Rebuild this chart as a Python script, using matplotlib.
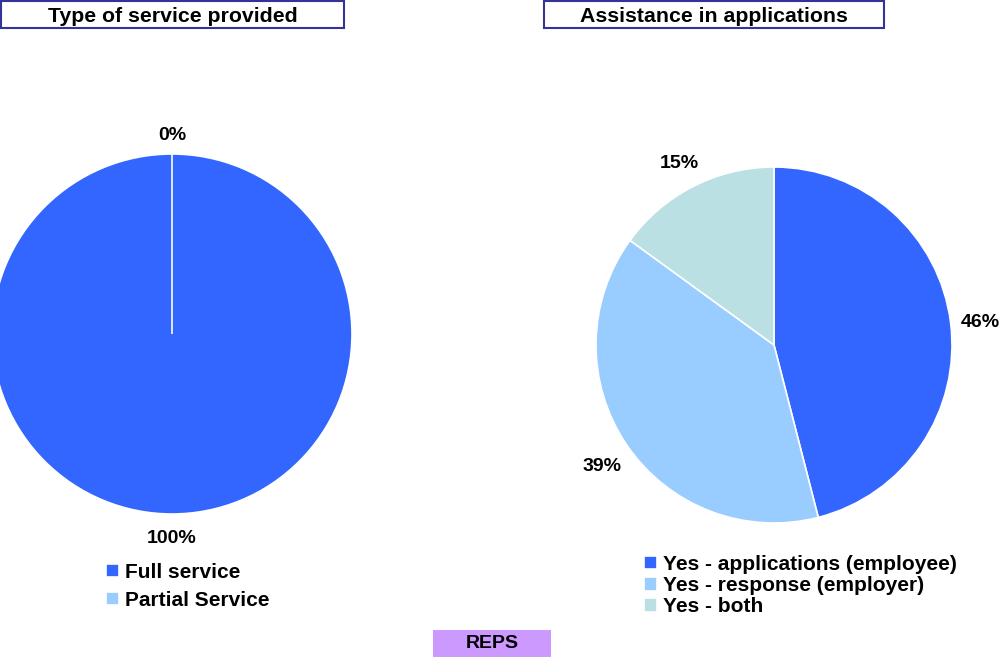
import matplotlib.pyplot as plt
from matplotlib.patches import Rectangle

plt.rcParams['font.family'] = ['Liberation Sans', 'DejaVu Sans']
plt.rcParams['font.weight'] = 'bold'

# data
service_labels = ["Full service", "Partial Service"]
service_values = [100, 0]
service_colors = ["#3366FF", "#99CCFF"]

assist_labels = ["Yes - applications (employee)", "Yes - response (employer)", "Yes - both"]
assist_values = [46, 39, 15]
assist_colors = ["#3366FF", "#99CCFF", "#BBE0E3"]

W, H = 1002, 657
fig = plt.figure(figsize=(W / 100, H / 100), dpi=100)


def px_axes(cx, cy, r):
    # axes square centered on pixel (cx, cy) with radius r
    return fig.add_axes([(cx - r) / W, (H - cy - r) / H, 2 * r / W, 2 * r / H])


def pct_fmt(p):
    return "%d%%" % round(p)


ax1 = px_axes(172, 334, 180)
w1, _, t1 = ax1.pie(service_values, colors=service_colors, startangle=90, counterclock=False,
                    autopct=pct_fmt, pctdistance=1.12, radius=1,
                    wedgeprops=dict(edgecolor="white", linewidth=1.2),
                    textprops=dict(fontsize=14, fontweight="bold"))
ax1.set_xlim(-1, 1)
ax1.set_ylim(-1, 1)
for t in t1:
    x, y = t.get_position()
    t.set_position((x, y - 3 / 180))

ax2 = px_axes(774, 345, 178)
w2, _, t2 = ax2.pie(assist_values, colors=assist_colors, startangle=90, counterclock=False,
                    autopct=pct_fmt, pctdistance=1.17, radius=1,
                    wedgeprops=dict(edgecolor="white", linewidth=1.2),
                    textprops=dict(fontsize=14, fontweight="bold"))
ax2.set_xlim(-1, 1)
ax2.set_ylim(-1, 1)
for t in t2:
    x, y = t.get_position()
    t.set_position((x, y - 4 / 178))

# title boxes
for x0, x1, title in [(1, 344, "Type of service provided"), (544, 884, "Assistance in applications")]:
    fig.add_artist(Rectangle((x0 / W, (H - 28) / H), (x1 - x0) / W, 27 / H,
                             transform=fig.transFigure, facecolor="white",
                             edgecolor="#333399", linewidth=1.5))
    fig.text((x0 + x1) / 2 / W, (H - 16) / H, title, ha="center", va="center",
             fontsize=15.3, fontweight="bold")

# legends
leg_style = dict(loc="upper left", frameon=False, fontsize=15, handlelength=0.62,
                 handleheight=0.62, handletextpad=0.3, borderpad=0, borderaxespad=0)
fig.legend(w1, service_labels, bbox_to_anchor=(106 / W, (H - 563) / H),
           labelspacing=0.43, **leg_style)
fig.legend(w2, assist_labels, bbox_to_anchor=(644 / W, (H - 555) / H),
           labelspacing=0.1, **leg_style)

# REPS tag
fig.add_artist(Rectangle((433 / W, 0), 118 / W, 27 / H, transform=fig.transFigure,
                         facecolor="#CC99FF", edgecolor="none"))
fig.text(492 / W, 13 / H, "REPS", ha="center", va="center", fontsize=14, fontweight="bold")

fig.savefig("out.png", dpi=100)
